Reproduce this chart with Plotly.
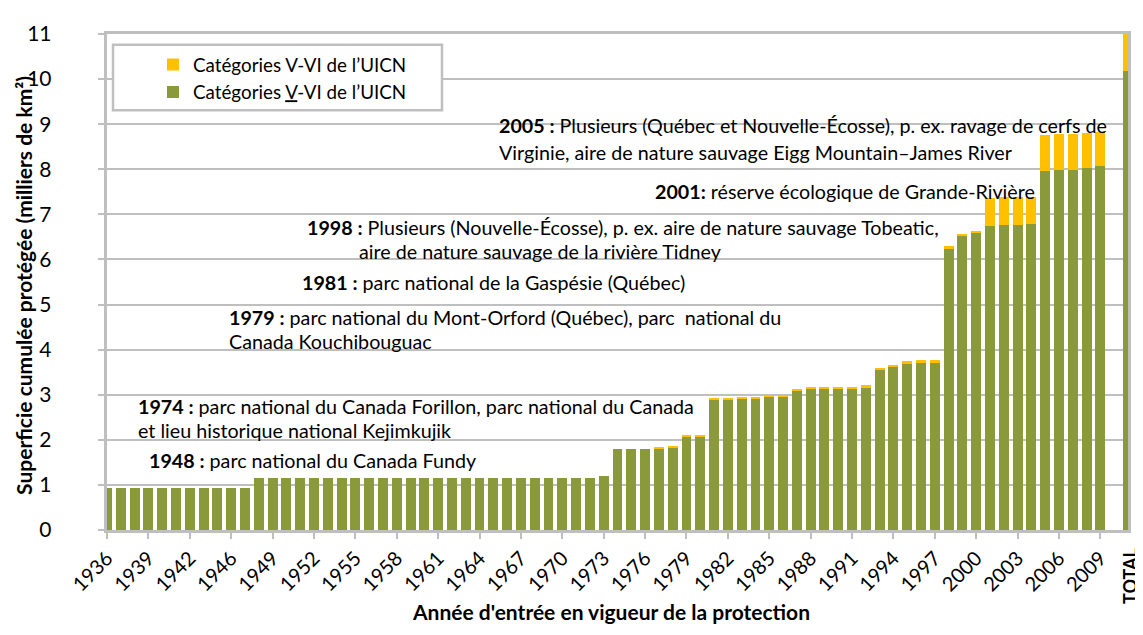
import plotly.graph_objects as go

# categories: 1936-2009 (1945 absent), an empty slot, then TOTAL
years = [str(y) for y in range(1936, 1945)] + [str(y) for y in range(1946, 2010)]
categories = years + [" ", "TOTAL"]

# milliers de km² - partie verte
green = (
    [0.94] * 11            # 1936-1947
    + [1.16] * 25          # 1948-1972
    + [1.19,               # 1973
       1.80, 1.80, 1.80, 1.80, 1.83,   # 1974-1978
       2.07, 2.08,                      # 1979-1980
       2.89, 2.89, 2.91, 2.92, 2.95, 2.96,  # 1981-1986
       3.10, 3.14, 3.14, 3.14, 3.14, 3.17,  # 1987-1992
       3.56, 3.61, 3.68, 3.70, 3.70,        # 1993-1997
       6.23, 6.51, 6.58,                    # 1998-2000
       6.75, 6.76, 6.77, 6.79,              # 2001-2004
       7.96, 7.98, 7.99, 8.02, 8.07]        # 2005-2009
    + [None, 10.18]
)

# partie jaune
yellow = (
    [0] * 40               # 1936-1976
    + [0.03, 0.03, 0.03, 0.03,             # 1977-1980
       0.02, 0.02, 0.02, 0.03, 0.03, 0.03,  # 1981-1986
       0.03, 0.04, 0.04, 0.04, 0.04, 0.04,  # 1987-1992
       0.04, 0.05, 0.06, 0.06, 0.06,        # 1993-1997
       0.06, 0.05, 0.06,                    # 1998-2000
       0.62, 0.62, 0.61, 0.60,              # 2001-2004
       0.81, 0.80, 0.80, 0.78, 0.75]        # 2005-2009
    + [None, 0.85]
)

tick_years = years[::3]

GREEN = "#8A9A3B"
YELLOW = "#FFC000"
GRID = "#BFBFBF"
FONT = "Lato"
TXT = 19.7

# the page body has an 8px margin, so the figure is made smaller and
# positions below are given in page pixels
OFF = 8
W, H = 1143 - OFF, 635 - OFF
L, R, T, B = 99, 15, 14, 105


def px(x):
    return (x - OFF - L) / (W - L - R)


def py(y):
    return (H - B - (y - OFF)) / (H - T - B)


fig = go.Figure()
fig.add_trace(go.Bar(x=categories, y=green, name="Catégories <u>V</u>-VI de l’UICN",
                     marker=dict(color=GREEN, line=dict(width=0))))
fig.add_trace(go.Bar(x=categories, y=yellow, name="Catégories V-VI de l’UICN",
                     marker=dict(color=YELLOW, line=dict(width=0))))

# annotations (texte, x gauche, y centre) en pixels
notes = [
    ("<b>2005 :</b> Plusieurs (Québec et Nouvelle-Écosse), p. ex. ravage de cerfs de", 497, 116),
    ("Virginie, aire de nature sauvage Eigg Mountain–James River", 497, 143),
    ("<b>2001:</b> réserve écologique de Grande-Rivière", 653, 183),
    ("<b>1998 :</b> Plusieurs (Nouvelle-Écosse), p. ex. aire de nature sauvage Tobeatic,", 305, 220),
    ("aire de nature sauvage de la rivière Tidney", 357, 245),
    ("<b>1981 :</b> parc national de la Gaspésie (Québec)", 300, 277),
    ("<b>1979 :</b> parc national du Mont-Orford (Québec), parc  national du", 227, 312),
    ("Canada Kouchibouguac", 227, 337),
    ("<b>1974 :</b> parc national du Canada Forillon, parc national du Canada", 136, 403),
    ("et lieu historique national Kejimkujik", 136, 428),
    ("<b>1948 :</b> parc national du Canada Fundy", 147, 459),
]
for text, x, y in notes:
    fig.add_annotation(text=text, x=px(x), y=py(y), xref="paper", yref="paper",
                       xanchor="left", yanchor="middle", showarrow=False,
                       font=dict(family=FONT, size=TXT, color="black"))

fig.add_annotation(text="<b>TOTAL</b>", x=px(1130), y=py(577), xref="paper", yref="paper",
                   textangle=-90, showarrow=False, xanchor="center", yanchor="middle",
                   font=dict(family=FONT, size=18, color="black"))

# titres des axes
fig.add_annotation(text="<b>Superficie cumulée protégée (milliers de km²)</b>",
                   x=px(24), y=py(280), xref="paper", yref="paper", textangle=-90,
                   showarrow=False, xanchor="center", yanchor="middle",
                   font=dict(family=FONT, size=21, color="black"))
fig.add_annotation(text="<b>Année d'entrée en vigueur de la protection</b>",
                   x=px(611), y=py(613), xref="paper", yref="paper",
                   showarrow=False, xanchor="center", yanchor="middle",
                   font=dict(family=FONT, size=21, color="black"))

# cadre de la légende
fig.add_shape(type="rect", xref="paper", yref="paper",
              x0=px(113), x1=px(442), y0=py(100), y1=py(33),
              line=dict(color=GRID, width=2.5), fillcolor="white", layer="above")

fig.update_layout(
    width=W, height=H,
    margin=dict(l=L, r=R, t=T, b=B),
    barmode="stack", bargap=0.28,
    paper_bgcolor="white", plot_bgcolor="white",
    font=dict(family=FONT, color="black"),
    showlegend=True,
    legend=dict(x=px(153), y=py(34), xanchor="left", yanchor="top",
                bgcolor="rgba(0,0,0,0)", borderwidth=0, traceorder="reversed",
                font=dict(family=FONT, size=18.8, color="black")),
    xaxis=dict(type="category", range=[0, len(categories) - 1],
               tickmode="array", tickvals=tick_years, ticktext=tick_years,
               tickangle=-45, tickfont=dict(family=FONT, size=20, color="black"),
               ticks="outside", ticklen=6, tickcolor=GRID, tickwidth=2,
               showline=True, linecolor=GRID, linewidth=2.5, mirror=True,
               showgrid=False),
    yaxis=dict(range=[0, 11], dtick=1, tick0=0,
               tickfont=dict(family=FONT, size=21, color="black"),
               ticks="outside", ticklen=6, tickcolor=GRID, tickwidth=2,
               ticksuffix="\u2002", ticklabelstandoff=32,
               showline=True, linecolor=GRID, linewidth=2.5, mirror=True,
               showgrid=True, gridcolor=GRID, gridwidth=2, zeroline=False),
)

fig.write_html("out.html")
